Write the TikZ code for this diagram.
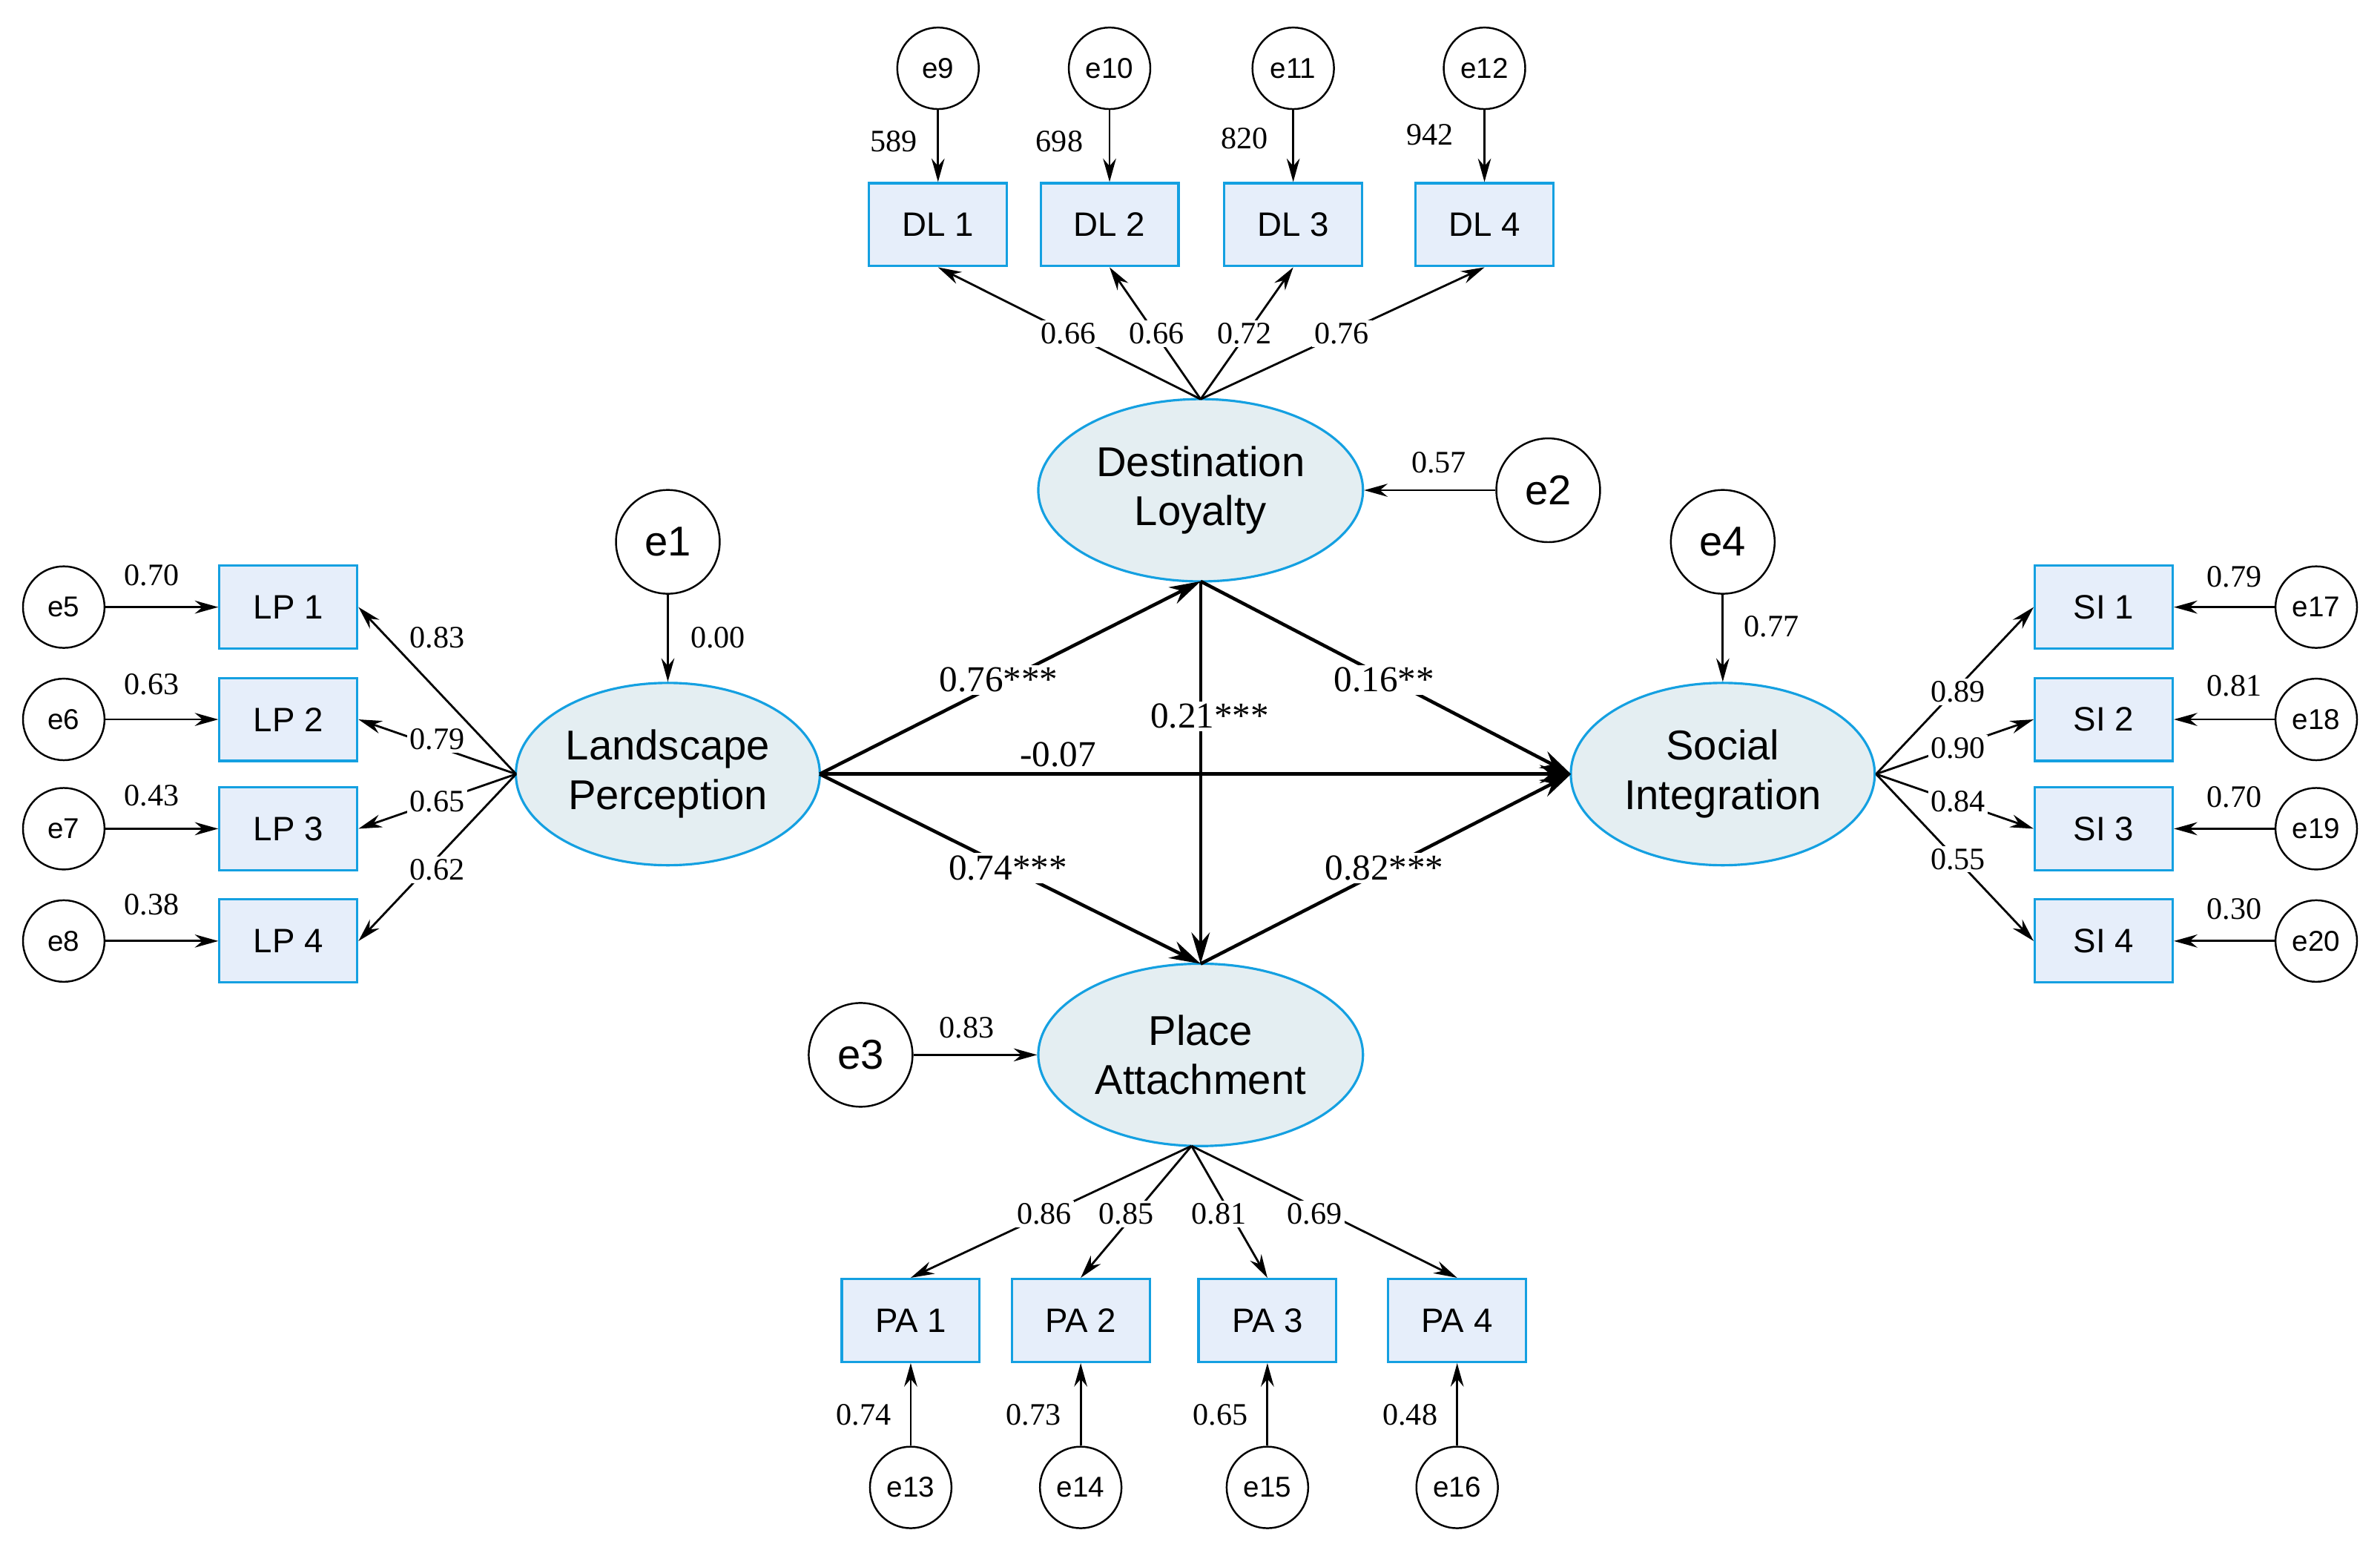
\documentclass[tikz,border=0pt]{standalone}
\usepackage{fontspec}
\setmainfont{Liberation Serif}
\newfontfamily\sansf{Liberation Sans}
\usetikzlibrary{shapes.geometric,arrows.meta}
\definecolor{bord}{RGB}{20,160,225}
\definecolor{boxf}{RGB}{230,238,250}
\definecolor{ellf}{RGB}{228,238,242}
\begin{document}
\begin{tikzpicture}[x=0.02047cm,y=-0.02047cm,
 lat/.style={ellipse,draw=bord,fill=ellf,line width=0.9pt,minimum width=200\pgflinewidth,align=center,font=\sansf\fontsize{16}{19}\selectfont,inner sep=0},
 box/.style={rectangle,draw=bord,fill=boxf,line width=0.9pt,minimum width=1.86cm,minimum height=1.12cm,font=\sansf\fontsize{13}{15}\selectfont},
 se/.style={circle,draw,line width=0.7pt,minimum size=1.1cm,inner sep=0,font=\sansf\fontsize{11}{13}\selectfont},
 be/.style={circle,draw,line width=0.7pt,minimum size=1.4cm,inner sep=0,font=\sansf\fontsize{16}{19}\selectfont},
 ar/.style={-{Stealth[length=9pt,width=5pt]},line width=0.8pt},
 sar/.style={-{Stealth[length=12pt,width=7pt]},line width=1.3pt},
 lb/.style={font=\fontsize{12}{14}\selectfont,inner sep=1pt},
 blb/.style={font=\fontsize{14}{16}\selectfont,inner sep=1pt}]
\useasboundingbox (0,0) rectangle (1568,1021);
% latent
\node[lat,minimum width=4.38cm,minimum height=2.46cm] (DL) at (791,323) {Destination\\Loyalty};
\node[lat,minimum width=4.1cm,minimum height=2.46cm] (LP) at (440,510) {Landscape\\Perception};
\node[lat,minimum width=4.1cm,minimum height=2.46cm] (SI) at (1135,510) {Social\\Integration};
\node[lat,minimum width=4.38cm,minimum height=2.46cm] (PA) at (791,695) {Place\\Attachment};
\node[be] (e1) at (440,357) {e1};
\node[be] (e2) at (1020,323) {e2};
\node[be] (e3) at (567,695) {e3};
\node[be] (e4) at (1135,357) {e4};
\draw[ar] (e1) -- (LP); \node[lb] at (473,420) {0.00};
\draw[ar] (e2) -- (DL); \node[lb] at (948,305) {0.57};
\draw[ar] (e3) -- (PA); \node[lb] at (637,677) {0.83};
\draw[ar] (e4) -- (SI); \node[lb] at (1167,413) {0.77};
% DL indicators
\coordinate (dlb) at (791,263);
\foreach \i/\x/\n/\l/\lx/\ly/\ex/\ey in {1/618/9/0.66/704/220/589/93, 2/731/10/0.66/762/220/698/93, 3/852/11/0.72/820/220/820/91, 4/978/12/0.76/884/220/942/89}{
 \node[box] (DL\i) at (\x,148) {DL \i};
 \node[se] (e\n) at (\x,45) {e\n};
 \draw[ar] (e\n) -- (DL\i);
 \draw[ar] (dlb) -- (DL\i.south);
 \node[lb,fill=white] at (\lx,\ly) {\l};
 \node[lb] at (\ex,\ey) {\ex};
}
% LP indicators
\coordinate (lpw) at (340,510);
\foreach \i/\y/\n/\l/\ly/\el/\ey in {1/400/5/0.83/420/0.70/379, 2/474/6/0.79/487/0.63/451, 3/546/7/0.65/528/0.43/524, 4/620/8/0.62/573/0.38/596}{
 \node[box] (LP\i) at (190,\y) {LP \i};
 \node[se] (e\n) at (42,\y) {e\n};
 \draw[ar] (e\n) -- (LP\i);
 \draw[ar] (lpw) -- (LP\i.east);
 \node[lb,fill=white] at (288,\ly) {\l};
 \node[lb] at (100,\ey) {\el};
}
% SI indicators
\coordinate (sie) at (1236,510);
\foreach \i/\y/\n/\l/\ly/\el/\ey in {1/400/17/0.89/456/0.79/380, 2/474/18/0.90/493/0.81/452, 3/546/19/0.84/528/0.70/525, 4/620/20/0.55/566/0.30/599}{
 \node[box] (SI\i) at (1386,\y) {SI \i};
 \node[se] (e\n) at (1526,\y) {e\n};
 \draw[ar] (e\n) -- (SI\i);
 \draw[ar] (sie) -- (SI\i.west);
 \node[lb,fill=white] at (1290,\ly) {\l};
 \node[lb] at (1472,\ey) {\el};
}
% PA indicators
\coordinate (pab) at (785,755);
\foreach \i/\x/\n/\l/\lx/\el/\ex in {1/600/13/0.86/688/0.74/569, 2/712/14/0.85/742/0.73/681, 3/835/15/0.81/803/0.65/804, 4/960/16/0.69/866/0.48/929}{
 \node[box] (PA\i) at (\x,870) {PA \i};
 \node[se] (e\n) at (\x,980) {e\n};
 \draw[ar] (e\n) -- (PA\i);
 \draw[ar] (pab) -- (PA\i.north);
 \node[lb,fill=white] at (\lx,800) {\l};
 \node[lb] at (\ex,932) {\el};
}
% structural
\coordinate (lpe) at (540,510);
\coordinate (dls) at (791,383);
\coordinate (pan) at (791,635);
\coordinate (siw) at (1035,510);
\draw[sar] (lpe) -- (dls);
\draw[sar] (dls) -- (siw);
\draw[sar] (dls) -- (pan);
\draw[sar] (lpe) -- (pan);
\draw[sar] (pan) -- (siw);
\node[blb,fill=white] at (697,497) {-0.07};
\draw[sar] (lpe) -- (siw);
\node[blb,fill=white] at (697,497) {-0.07};
\node[blb,fill=white] at (658,448) {0.76***};
\node[blb,fill=white] at (912,448) {0.16**};
\node[blb,fill=white] at (797,472) {0.21***};
\node[blb,fill=white] at (664,572) {0.74***};
\node[blb,fill=white] at (912,572) {0.82***};
\end{tikzpicture}
\end{document}
